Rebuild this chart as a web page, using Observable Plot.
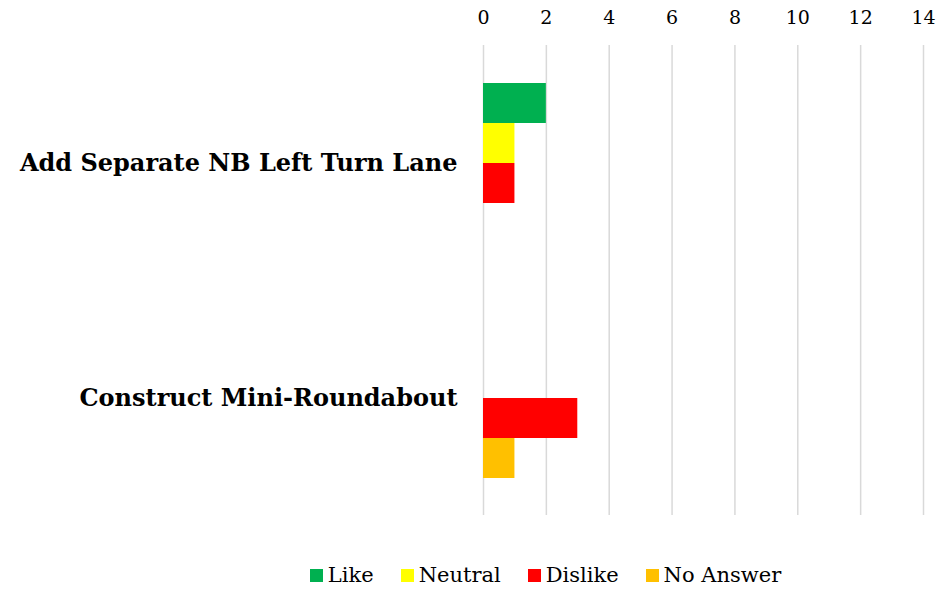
<!DOCTYPE html>
<html>
<head>
<meta charset="utf-8">
<script src="https://cdn.jsdelivr.net/npm/d3@7"></script>
<script src="https://cdn.jsdelivr.net/npm/@observablehq/plot@0.6"></script>
<style>
  body { margin: 0; background: #fff; font-family: "DejaVu Serif", serif; }
  #chart { width: 948px; }
  .legend { display: flex; justify-content: center; align-items: center; font-size: 21px; color: #000; margin-left: 143px; margin-top: 18px; }
  .legend .item { display: flex; align-items: center; margin-right: 27px; }
  .legend .item:last-child { margin-right: 0; }
  .legend .sw { width: 13px; height: 13px; margin-right: 5px; }
</style>
</head>
<body>
<div id="chart"></div>
<script>
const categories = ["Add Separate NB Left Turn Lane", "Construct Mini-Roundabout"];
const series = ["Like", "Neutral", "Dislike", "No Answer"];
const like = [2, 0];
const neutral = [1, 0];
const dislike = [1, 3];
const noAnswer = [0, 1];
const colors = ["#00B050", "#FFFF00", "#FF0000", "#FFC000"];
const xTicks = [0, 2, 4, 6, 8, 10, 12, 14];

const valuesBySeries = [like, neutral, dislike, noAnswer];
const data = [];
categories.forEach((c, i) => {
  series.forEach((s, j) => {
    data.push({category: c, series: s, value: valuesBySeries[j][i]});
  });
});

const chart = Plot.plot({
  width: 948,
  height: 545,
  marginTop: 45,
  marginBottom: 30,
  marginLeft: 483,
  marginRight: 25,
  style: {fontFamily: "DejaVu Serif, serif", fontSize: "19px", color: "#000", background: "#fff"},
  x: {domain: [0, 14], ticks: xTicks, axis: "top", label: null, tickSize: 0, tickPadding: 22},
  fy: {domain: categories, padding: 0, label: null},
  y: {domain: series, paddingInner: 0, paddingOuter: 0.9375, axis: null},
  color: {domain: series, range: colors},
  marks: [
    Plot.ruleX(xTicks, {stroke: "#d9d9d9", strokeWidth: 1.5}),
    Plot.barX(data, {x: "value", y: "series", fy: "category", fill: "series"}),
    Plot.axisFy({anchor: "left", tickSize: 0, tickPadding: 26, fontWeight: "bold", fontSize: 24, label: null})
  ]
});
document.getElementById("chart").appendChild(chart);

const legend = document.createElement("div");
legend.className = "legend";
series.forEach((s, i) => {
  const item = document.createElement("div");
  item.className = "item";
  const sw = document.createElement("span");
  sw.className = "sw";
  sw.style.background = colors[i];
  const t = document.createElement("span");
  t.textContent = s;
  item.appendChild(sw);
  item.appendChild(t);
  legend.appendChild(item);
});
document.getElementById("chart").appendChild(legend);
</script>
</body>
</html>
